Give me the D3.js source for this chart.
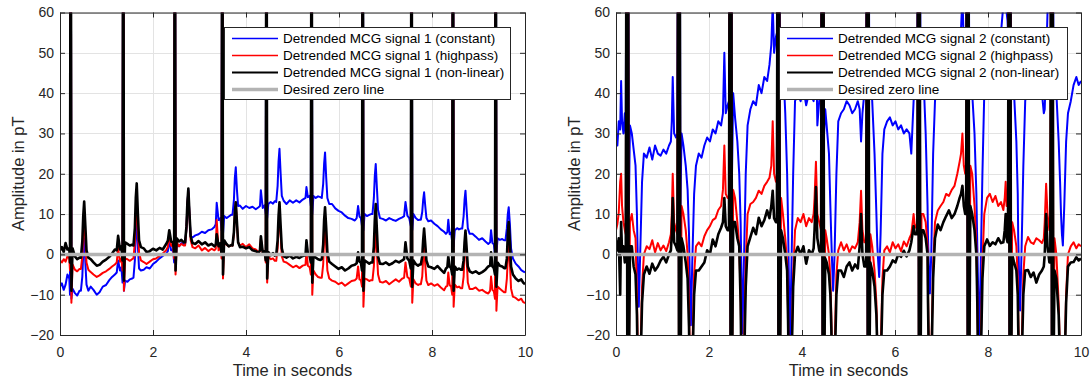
<!DOCTYPE html>
<html>
<head>
<meta charset="utf-8">
<script src="https://cdn.jsdelivr.net/npm/d3@7"></script>
<style>
  body { margin: 0; background: #fff; }
  svg { display: block; }
</style>
</head>
<body>
<div id="chart"></div>
<script>
// ---- data, one row per beat segment ----
const xTicks = [0, 2, 4, 6, 8, 10];
const yTicks = [-20, -10, 0, 10, 20, 30, 40, 50, 60];
const zeroLevel = 0;

const legend1 = ['Detrended MCG signal 1 (constant)', 'Detrended MCG signal 1 (highpass)', 'Detrended MCG signal 1 (non-linear)', 'Desired zero line'];
const legend2 = ['Detrended MCG signal 2 (constant)', 'Detrended MCG signal 2 (highpass)', 'Detrended MCG signal 2 (non-linear)', 'Desired zero line'];

// signal 1 (left)
const time1 = [
  [0.00, 0.04, 0.08, 0.12, 0.16, 0.20],
  [0.215, 0.23, 0.245, 0.27, 0.32, 0.37, 0.42],
  [0.45, 0.48, 0.50, 0.52, 0.545, 0.57, 0.61],
  [0.66, 0.72, 0.79, 0.85, 0.92, 0.99, 1.06, 1.12, 1.18],
  [1.22, 1.25, 1.29, 1.32, 1.345, 1.36, 1.375, 1.40, 1.45, 1.50, 1.55],
  [1.58, 1.61, 1.63, 1.65, 1.675, 1.70, 1.74],
  [1.80, 1.86, 1.93, 2.00, 2.07, 2.14, 2.21, 2.28],
  [2.32, 2.35, 2.39, 2.43, 2.455, 2.47, 2.485, 2.51, 2.56, 2.61, 2.66],
  [2.69, 2.72, 2.74, 2.76, 2.785, 2.81, 2.85],
  [2.91, 2.98, 3.05, 3.12, 3.19, 3.26, 3.32],
  [3.35, 3.37, 3.41, 3.45, 3.475, 3.49, 3.505, 3.53, 3.58, 3.63, 3.68],
  [3.71, 3.74, 3.76, 3.78, 3.805, 3.83, 3.87],
  [3.93, 4.00, 4.07, 4.14, 4.21, 4.27],
  [4.30, 4.32, 4.36, 4.40, 4.425, 4.44, 4.455, 4.48, 4.53, 4.58, 4.62],
  [4.65, 4.68, 4.70, 4.72, 4.745, 4.77, 4.81],
  [4.87, 4.94, 5.01, 5.08, 5.15, 5.22],
  [5.28, 5.30, 5.33, 5.37, 5.395, 5.41, 5.425, 5.45, 5.50, 5.55, 5.60],
  [5.63, 5.66, 5.68, 5.70, 5.725, 5.75, 5.79],
  [5.85, 5.92, 5.99, 6.06, 6.13, 6.20, 6.27, 6.34],
  [6.38, 6.41, 6.44, 6.47, 6.495, 6.51, 6.525, 6.55, 6.60, 6.65, 6.69],
  [6.72, 6.75, 6.77, 6.79, 6.815, 6.84, 6.88],
  [6.94, 7.01, 7.08, 7.15, 7.22, 7.29, 7.36],
  [7.40, 7.43, 7.47, 7.51, 7.545, 7.56, 7.575, 7.60, 7.65, 7.70, 7.73],
  [7.76, 7.79, 7.81, 7.83, 7.855, 7.88, 7.92],
  [7.98, 8.05, 8.12, 8.19, 8.26, 8.30],
  [8.33, 8.35, 8.38, 8.41, 8.435, 8.45, 8.465, 8.49, 8.54, 8.58, 8.62],
  [8.65, 8.68, 8.70, 8.72, 8.745, 8.77, 8.81],
  [8.87, 8.94, 9.01, 9.08, 9.15, 9.21],
  [9.25, 9.27, 9.30, 9.33, 9.355, 9.37, 9.385, 9.41, 9.46, 9.51, 9.55],
  [9.58, 9.61, 9.63, 9.65, 9.675, 9.70, 9.74],
  [9.80, 9.86, 9.92, 9.96, 10.00]
];
const constant1 = [
  [-8.0, -7.2, -8.8, -7.5, -5.0, -6.0],
  [-10, 120, -11, -8.5, -9.6, -10.2, -9.0],
  [-9.0, -5.5, 0.5, 4.0, -2.0, -7.5, -9.0],
  [-8.0, -8.8, -10.0, -9.4, -8.0, -7.6, -6.4, -5.6, -5.0],
  [-4.5, -1.5, -4.0, -3.2, -7, 120, -9, -6.5, -6.8, -6.2, -6.0],
  [-5.8, -1.5, 5.5, 8.8, 2.0, -3.5, -4.0],
  [-3.8, -3.2, -3.5, -2.4, -1.8, -1.0, -0.4, 0.2],
  [0.8, 3.5, 1.0, 1.2, -2, 120, -2, 2.5, 2.0, 2.8, 2.5],
  [2.5, 6.5, 12.5, 15.9, 9.5, 4.5, 4.2],
  [4.7, 5.0, 5.6, 5.3, 6.0, 6.2, 6.8],
  [7.5, 12.8, 8.5, 9.0, 6, 120, 5, 9.5, 9.0, 9.4, 9.8],
  [9.8, 13.5, 19.0, 21.6, 16.0, 12.0, 12.1],
  [11.3, 12.0, 11.5, 11.8, 11.2, 11.7],
  [12.0, 15.9, 11.5, 12.2, 10, 120, 9, 12.5, 13.0, 12.6, 13.2],
  [13.0, 17.0, 23.0, 26.2, 20.0, 14.5, 13.3],
  [12.5, 13.4, 12.8, 13.4, 12.9, 13.6],
  [14.0, 16.7, 14.2, 14.5, 12, 120, 10, 14.5, 14.0, 14.4, 14.2],
  [14.0, 17.5, 22.5, 25.3, 19.0, 14.0, 12.5],
  [12.5, 11.4, 10.8, 10.4, 9.6, 9.0, 8.8, 8.4],
  [9.0, 12.0, 9.4, 9.0, 7, 120, 6, 10.0, 9.5, 9.8, 10.0],
  [10.0, 14.0, 19.5, 22.4, 16.5, 11.0, 9.0],
  [8.8, 8.4, 9.0, 8.6, 8.3, 8.8, 9.2],
  [9.5, 13.0, 9.6, 9.0, 7, 120, 6, 10.0, 9.0, 8.5, 8.6],
  [8.6, 10.5, 13.5, 15.4, 12.0, 9.0, 8.2],
  [8.4, 7.6, 7.0, 6.2, 5.6, 5.1],
  [5.5, 8.6, 5.0, 5.4, 3, 120, 2, 6.0, 6.5, 6.2, 6.4],
  [6.4, 9.5, 13.5, 15.8, 11.0, 6.5, 5.1],
  [5.1, 4.4, 3.6, 4.0, 3.2, 2.6],
  [3.0, 6.0, 2.8, 2.5, 0, 120, 0, 4.0, 3.6, 3.8, 3.5],
  [3.5, 6.5, 10.0, 11.7, 7.5, 1.5, -1.0],
  [-2.3, -3.0, -3.9, -4.2, -4.5]
];
const highpass1 = [
  [-1.5, -2.0, -1.2, -1.8, -0.5, -1.0],
  [-4, 120, -12, -2.5, -3.8, -4.2, -3.6],
  [-3.6, -0.5, 5.5, 9.0, 3.5, -2.0, -3.8],
  [-4.4, -5.0, -5.6, -5.2, -4.6, -4.2, -3.6, -3.0, -2.5],
  [-2.0, 1.5, -1.8, -1.0, -4, 120, -9, -1.0, -1.2, -1.6, -1.2],
  [-1.0, 3.0, 9.5, 12.5, 6.0, 0.5, -1.5],
  [-1.9, -2.4, -1.8, -1.2, -1.0, -0.4, 0.2, 1.0],
  [1.8, 5.0, 2.2, 2.0, -1, 120, -5, 3.0, 2.0, 2.6, 2.2],
  [2.2, 6.5, 12.5, 15.5, 9.5, 3.5, 1.8],
  [1.5, 2.2, 1.0, 1.6, 0.8, 1.4, 1.0],
  [1.4, 8.5, 1.0, 1.8, -1, 120, -6, 3.0, 2.4, 2.0, 2.2],
  [2.2, 5.0, 10.0, 12.9, 7.5, 3.0, 2.2],
  [2.6, 1.8, 2.5, 1.5, 1.2, 0.6],
  [0.8, 4.0, 0.2, 0.5, -2, 120, -7, -0.5, -1.2, -1.0, -1.6],
  [-1.6, 1.5, 6.5, 9.7, 5.0, -0.5, -1.8],
  [-2.0, -2.6, -3.2, -2.8, -3.4, -2.8],
  [-2.6, 1.0, -2.8, -3.2, -5, 120, -10, -4.0, -5.0, -5.6, -5.8],
  [-5.8, -2.5, 4.0, 7.6, 2.0, -4.0, -6.0],
  [-6.5, -6.8, -7.4, -7.0, -7.8, -7.2, -6.6, -6.4],
  [-6.0, -3.0, -6.2, -6.4, -8, 120, -13, -6.0, -6.2, -6.6, -6.4],
  [-6.4, -3.0, 2.5, 6.4, 0.5, -5.0, -6.8],
  [-7.0, -6.6, -7.4, -6.8, -6.2, -6.8, -6.0],
  [-5.8, -2.0, -5.6, -6.0, -8, 120, -12, -6.2, -7.2, -7.6, -7.4],
  [-7.4, -5.5, -1.0, 2.0, -2.5, -6.5, -7.6],
  [-7.2, -7.8, -7.4, -8.2, -8.9, -8.0],
  [-7.8, -4.5, -7.6, -8.0, -10, 120, -13, -7.5, -8.2, -8.0, -8.4],
  [-8.4, -5.5, 0.0, 3.9, -1.0, -7.0, -8.6],
  [-8.6, -8.2, -9.0, -8.8, -9.4, -9.7],
  [-9.0, -5.5, -8.8, -9.2, -11, 120, -14, -8.0, -8.5, -9.0, -9.4],
  [-9.4, -6.0, -1.0, 2.4, -2.0, -8.5, -10.5],
  [-10.8, -11.4, -11.0, -11.8, -12.1]
];
const nonlinear1 = [
  [1.0, 1.8, 0.6, 2.8, 1.2, 1.5],
  [-2, 120, -9, 1.5, -0.5, -1.2, -0.8],
  [-0.8, 3.2, 9.5, 13.1, 7.0, 1.0, -0.8],
  [-1.2, -2.0, -2.8, -2.6, -1.8, -1.3, -0.6, 0.2, 1.2],
  [1.0, 4.6, 1.2, 2.0, -1.5, 120, -6.5, 3.0, 2.6, 2.2, 2.4],
  [2.2, 6.5, 14.0, 17.6, 10.0, 3.5, 1.8],
  [1.5, 0.6, 0.8, 1.4, 1.0, 1.6, 1.2, 2.5],
  [3.4, 6.0, 3.2, 3.0, 0.5, 120, -4, 4.0, 3.2, 3.6, 3.0],
  [3.0, 7.0, 13.0, 16.3, 10.0, 4.5, 2.8],
  [2.6, 3.3, 2.5, 3.0, 2.2, 2.6, 2.0],
  [2.4, 5.0, 2.0, 2.8, 0, 120, -5, 3.5, 2.6, 2.0, 2.3],
  [2.2, 5.5, 10.5, 12.9, 8.0, 3.0, 1.8],
  [1.9, 1.5, 1.8, 1.0, 0.8, 0.4],
  [1.0, 4.5, 0.5, 0.8, -1.5, 120, -6, 0.6, -0.2, 0.3, -0.3],
  [-0.2, 3.5, 9.5, 12.9, 7.0, 1.5, -0.5],
  [-0.8, -0.3, -1.0, -0.6, -0.9, -0.4],
  [-0.2, 3.5, 0.2, -0.5, -2, 120, -7, -0.5, -0.8, -1.2, -1.4],
  [-1.2, 2.5, 8.5, 11.7, 6.5, 0.5, -1.8],
  [-2.4, -3.0, -3.6, -3.2, -4.0, -3.5, -2.8, -2.6],
  [-2.2, 0.5, -1.8, -2.0, -4, 120, -9, -1.5, -1.9, -2.3, -2.0],
  [-2.0, 2.0, 8.5, 12.5, 6.0, -0.5, -2.3],
  [-2.4, -2.0, -2.6, -2.2, -1.6, -2.0, -1.5],
  [-1.2, 3.0, -1.0, -1.6, -3.5, 120, -8, -1.5, -2.4, -2.8, -2.5],
  [-2.5, -0.5, 3.5, 6.4, 2.5, -1.5, -3.0],
  [-3.2, -3.6, -2.9, -3.8, -4.6, -3.5],
  [-3.2, -0.5, -3.0, -3.4, -5, 120, -9, -3.0, -3.8, -3.5, -3.8],
  [-3.8, -1.5, 3.0, 5.9, 1.5, -3.0, -4.2],
  [-4.6, -4.2, -4.8, -4.4, -3.8, -3.0],
  [-2.8, 0.5, -3.0, -3.4, -5, 120, -8, -2.0, -2.8, -3.0, -3.4],
  [-3.4, -1.0, 5.0, 8.0, 3.0, -3.0, -5.0],
  [-6.0, -6.6, -6.2, -7.0, -7.4]
];

// signal 2 (right), one row per beat
const time2 = [
  [0.00, 0.03, 0.06, 0.09, 0.11, 0.13, 0.16, 0.19, 0.21, 0.23, 0.245, 0.26, 0.275, 0.30, 0.34, 0.38, 0.42, 0.45, 0.47, 0.49, 0.52, 0.56, 0.60, 0.66, 0.72, 0.78, 0.84, 0.90, 0.96, 1.02, 1.08, 1.14, 1.18],
  [1.20, 1.22, 1.25, 1.29, 1.32, 1.34, 1.355, 1.37, 1.385, 1.41, 1.45, 1.50, 1.54, 1.57, 1.59, 1.61, 1.64, 1.68, 1.72, 1.78, 1.84, 1.90, 1.96, 2.02, 2.08, 2.14, 2.20, 2.26],
  [2.30, 2.33, 2.36, 2.40, 2.43, 2.45, 2.465, 2.48, 2.495, 2.52, 2.56, 2.61, 2.65, 2.68, 2.70, 2.72, 2.75, 2.79, 2.83, 2.89, 2.95, 3.01, 3.07, 3.13, 3.19, 3.25, 3.30],
  [3.34, 3.37, 3.40, 3.44, 3.46, 3.48, 3.495, 3.51, 3.525, 3.55, 3.59, 3.64, 3.68, 3.70, 3.72, 3.74, 3.77, 3.81, 3.85, 3.91, 3.97, 4.03, 4.09, 4.15, 4.21, 4.25],
  [4.27, 4.30, 4.33, 4.37, 4.41, 4.43, 4.445, 4.46, 4.475, 4.50, 4.53, 4.58, 4.61, 4.63, 4.65, 4.67, 4.70, 4.74, 4.78, 4.84, 4.90, 4.96, 5.02, 5.08, 5.14, 5.20],
  [5.24, 5.27, 5.30, 5.34, 5.38, 5.40, 5.415, 5.43, 5.445, 5.47, 5.51, 5.56, 5.60, 5.62, 5.64, 5.66, 5.69, 5.73, 5.77, 5.83, 5.89, 5.95, 6.01, 6.07, 6.13, 6.19, 6.25, 6.31],
  [6.35, 6.40, 6.43, 6.46, 6.48, 6.50, 6.515, 6.53, 6.545, 6.57, 6.61, 6.66, 6.70, 6.71, 6.73, 6.75, 6.78, 6.82, 6.86, 6.92, 6.98, 7.04, 7.10, 7.16, 7.22, 7.28, 7.34, 7.39],
  [7.42, 7.45, 7.48, 7.51, 7.53, 7.55, 7.565, 7.58, 7.595, 7.62, 7.66, 7.71, 7.75, 7.77, 7.79, 7.81, 7.84, 7.88, 7.92, 7.98, 8.04, 8.10, 8.16, 8.22, 8.28, 8.33],
  [8.36, 8.38, 8.40, 8.42, 8.43, 8.45, 8.465, 8.48, 8.495, 8.52, 8.56, 8.61, 8.64, 8.65, 8.67, 8.69, 8.72, 8.76, 8.80, 8.86, 8.92, 8.98, 9.04, 9.10, 9.16, 9.20],
  [9.22, 9.25, 9.28, 9.32, 9.34, 9.36, 9.375, 9.39, 9.405, 9.43, 9.47, 9.52, 9.55, 9.57, 9.59, 9.61, 9.64, 9.68, 9.72, 9.78, 9.84, 9.90, 9.95, 10.00]
];
const constant2 = [
  [29, 27, 33, 31, 43, 33, 30, 35, 30, 120, -20, 110, 10, 32, 30, 26, 22, 10, -2, -13, 0, 18, 25, 24, 26.5, 23.5, 27, 25, 24.5, 26, 25, 27, 28],
  [33, 44, 30, 29, 30, 120, -20, 110, 12, 30, 27, 22, 16, 5, -8, -17.6, -2, 15, 22, 25, 24, 27, 29, 28, 31, 30, 33, 32],
  [35, 50, 35, 37, 38, 120, -20, 110, 20, 40, 34, 28, 20, 8, -6, -19.6, -3, 20, 32, 36, 38, 37, 42, 40, 44, 43, 47],
  [52, 62, 50, 54, 55, 120, -20, 110, 45, 56, 48, 35, 20, 8, -8, -22, -5, 20, 38, 40, 38, 41, 37, 40, 39, 38],
  [40, 55, 32, 38, 40, 120, -20, 110, 30, 36, 32, 25, 12, 4, -3, -9, 0, 20, 33, 35, 36, 38, 37, 35, 36, 38],
  [36, 28, 35, 40, 42, 120, -20, 110, 50, 45, 38, 25, 10, 2, -2, -5.6, 5, 25, 31, 33, 34, 32, 33, 31, 32, 30, 31, 30],
  [25, 38, 42, 45, 46, 120, -20, 110, 55, 50, 45, 30, 12, 4, -4, -9.7, 0, 25, 38, 45, 48, 50, 52, 51, 53, 55, 54, 53],
  [56, 64, 52, 55, 55, 120, -20, 110, 50, 45, 40, 30, 15, 2, -10, -22, -5, 20, 40, 48, 50, 49, 52, 53, 55, 62],
  [65, 66, 60, 58, 55, 120, -20, 110, 50, 46, 40, 28, 15, 4, -6, -13.9, 0, 22, 38, 44, 47, 45, 46, 44, 40, 35],
  [36, 48, 60, 62, 60, 120, -20, 110, 55, 50, 40, 28, 18, 10, 5, 2.2, 12, 28, 35, 38, 42, 44, 42, 43]
];
const highpass2 = [
  [6, 7.5, 10.5, 18, 20, 12, 8, 6, 5, 120, -40, 100, -30, 8, 10, 6, 4, -10, -25, -35, -28, -8, 0, 2, 1.3, 3.5, 0.5, 2.8, 1.0, 2.2, 0.8, 3.0, 5],
  [10, 20, 8, 6, 5, 120, -40, 100, -30, 12, 10, 6, 0, -12, -28, -35, -25, -5, 2, 3, 2, 4.5, 6, 7, 8.5, 9, 11, 12],
  [16, 27, 15, 14, 14, 120, -40, 100, -30, 16, 14, 8, 2, -10, -26, -36, -25, -2, 10, 12.5, 13, 14, 15.8, 15, 17, 18, 19],
  [22, 33, 20, 18, 18, 120, -40, 100, -30, 14, 10, 4, -2, -14, -30, -40, -28, -5, 6, 9, 8, 10, 7, 9, 8, 10],
  [14, 23, 10, 8, 6, 120, -40, 100, -30, 6, 4, 0, -6, -15, -28, -36, -25, -5, 1, 3, 1, 2.5, 0.5, 2, 1.5, 3],
  [8, 15.8, 6, 3, 3, 120, -40, 100, -30, 5, 2, -4, -12, -22, -30, -35, -25, -6, 1, 2, 0.5, 3, 1.5, 2.5, 0.8, 3.2, 2, 4],
  [5, 10, 6.6, 7, 8, 120, -40, 100, -30, 10, 10, 8, 2, -10, -25, -35, -25, -3, 8, 10.9, 12, 13, 15, 14.5, 16, 17, 20, 23],
  [25, 30, 22, 20, 20, 120, -40, 100, -30, 22, 20, 12, 2, -10, -28, -38, -25, -2, 10, 14, 15, 13, 14.5, 12, 13, 11],
  [14, 18, 12, 12, 12, 120, -40, 100, -30, 8, 6, 2, -6, -15, -28, -36, -25, -5, 2, 4.3, 3, 2.6, 4, 3.5, 2.8, 4],
  [8, 17.5, 10, 6, 6, 120, -40, 100, -30, 4, 0, -12, -25, -32, -36, -35, -30, -10, 0, 2, 3, 1.5, 2.5, 2]
];
const nonlinear2 = [
  [3.5, 1, 4, -10, 8, 0.5, 2, -2, 0, 120, -50, 100, -35, 2, 2, -3, -5, -15, -30, -40, -32, -12, -5, -3, -4.8, -2.3, -4, -3, -1.5, -0.6, -2, 0, 1],
  [5, 14, 3, 2, 1, 120, -50, 100, -35, 4, 2, -2, -6, -18, -32, -40, -30, -10, -4, -4, -3, -2, 1, 0, 3.7, 2, 5, 6.6],
  [8, 14, 7, 6, 6, 120, -50, 100, -35, 8, 8, 4, 2, -12, -30, -40, -30, -8, 2, 4.3, 6.6, 5, 9.1, 7, 8.5, 10.9, 9],
  [12, 15.8, 9, 8, 8, 120, -50, 100, -35, 6, 4, 0, -4, -16, -32, -42, -30, -8, 0, 1.9, 0, 2, -2.3, 1, 0, 1.5],
  [6, 16.7, 4, 1, 0, 120, -50, 100, -35, -1, -2, -5, -10, -18, -30, -40, -30, -10, -4, -4, -5.6, -3, -2, -4, -2.5, -3.5],
  [2, 10, 0, -3, -3, 120, -50, 100, -35, -2, -4, -8, -15, -24, -32, -40, -30, -10, -4, -4, -3, -1.5, -2, 0, -0.6, 0.9, -0.5, 1],
  [3, 7, 5, 5, 5, 120, -50, 100, -35, 6, 6, 4, 0, -12, -28, -38, -30, -6, 4, 7.4, 6, 8, 9.5, 10.9, 9, 10, 12, 14],
  [15, 17, 12, 10, 10, 120, -50, 100, -35, 12, 10, 6, 0, -12, -30, -40, -30, -6, 2, 3.7, 2.1, 3, 2.5, 4, 2.8, 3],
  [6, 10, 4, 3, 3, 120, -50, 100, -35, 0, -2, -4, -10, -18, -30, -40, -30, -10, -4, -3.9, -5.6, -4.5, -7, -5, -4, -3],
  [0, 10, 2, -2, -2, 120, -50, 100, -35, -4, -6, -15, -28, -35, -40, -38, -32, -12, -3, -2, -1.9, -0.7, -1.5, -1]
];

// ---- drawing ----
const width = 1092, height = 381;
const font = '"Liberation Sans", Arial, Helvetica, sans-serif';
const axisColor = '#262626';
const colors = ['#0000ff', '#ff0000', '#000000', '#b3b3b3'];
const legendWidths = [1.5, 1.5, 2, 3.5];
const plotWidths = [2, 2, 2.6, 3.5];   // signal noise makes the traces look thicker

const svg = d3.select('#chart').append('svg')
  .attr('width', width)
  .attr('height', height)
  .attr('font-family', font);

svg.append('rect').attr('width', width).attr('height', height).attr('fill', '#fff');

function drawPanel(id, left, time, seriesList, labels, legendX, legendW) {
  const x = d3.scaleLinear().domain([0, 10]).range([left, left + 465]);
  const y = d3.scaleLinear().domain([-20, 60]).range([335, 12.5]);

  const g = svg.append('g');

  g.append('clipPath').attr('id', 'clip' + id)
    .append('rect')
    .attr('x', x(0)).attr('y', y(60))
    .attr('width', x(10) - x(0)).attr('height', y(-20) - y(60));

  // grid
  g.append('g')
    .attr('stroke', '#e3e3e3')
    .attr('stroke-width', 1)
    .call(gg => gg.selectAll('.gx').data(xTicks).join('line')
      .attr('x1', d => x(d) + 0.5).attr('x2', d => x(d) + 0.5)
      .attr('y1', y(60)).attr('y2', y(-20)))
    .call(gg => gg.selectAll('.gy').data(yTicks).join('line')
      .attr('y1', d => Math.round(y(d)) + 0.5).attr('y2', d => Math.round(y(d)) + 0.5)
      .attr('x1', x(0)).attr('x2', x(10)));

  const t = time.flat();
  const line = d3.line().x(d => x(d[0])).y(d => y(d[1]));

  const plot = g.append('g').attr('clip-path', `url(#clip${id})`);
  seriesList.forEach((vals, i) => {
    const v = vals.flat();
    plot.append('path')
      .datum(t.map((tt, k) => [tt, v[k]]))
      .attr('fill', 'none')
      .attr('stroke', colors[i])
      .attr('stroke-width', plotWidths[i])
      .attr('stroke-linejoin', 'round')
      .attr('d', line);
  });
  plot.append('path')
    .datum([[0, zeroLevel], [10, zeroLevel]])
    .attr('fill', 'none')
    .attr('stroke', colors[3])
    .attr('stroke-width', plotWidths[3])
    .attr('d', line);

  // axes
  const style = a => a.attr('font-family', font).attr('font-size', 14).attr('color', axisColor);
  g.append('g')
    .attr('transform', `translate(0,${y(-20)})`)
    .call(d3.axisBottom(x).tickValues(xTicks).tickSize(-5).tickSizeOuter(0).tickPadding(12))
    .call(style);
  g.append('g')
    .attr('transform', `translate(0,${y(60)})`)
    .call(d3.axisTop(x).tickValues(xTicks).tickSize(-5).tickSizeOuter(0).tickFormat(''))
    .call(style);
  g.append('g')
    .attr('transform', `translate(${x(0)},0)`)
    .call(d3.axisLeft(y).tickValues(yTicks).tickSize(-5).tickSizeOuter(0).tickPadding(6))
    .call(style);
  g.append('g')
    .attr('transform', `translate(${x(10)},0)`)
    .call(d3.axisRight(y).tickValues(yTicks).tickSize(-5).tickSizeOuter(0).tickFormat(''))
    .call(style);

  // axis labels
  g.append('text')
    .attr('x', (x(0) + x(10)) / 2).attr('y', 376)
    .attr('text-anchor', 'middle')
    .attr('font-size', 16.5).attr('fill', axisColor)
    .text('Time in seconds');
  g.append('text')
    .attr('transform', `translate(${x(0) - 36},${(y(60) + y(-20)) / 2}) rotate(-90)`)
    .attr('text-anchor', 'middle')
    .attr('font-size', 16.5).attr('fill', axisColor)
    .text('Amplitude in pT');

  // legend
  const lg = g.append('g').attr('transform', `translate(${legendX},27)`);
  lg.append('rect')
    .attr('x', 0.5).attr('y', 0.5)
    .attr('width', legendW).attr('height', 72)
    .attr('fill', '#fff').attr('stroke', axisColor).attr('stroke-width', 1);
  const items = lg.selectAll('g.item').data(labels).join('g')
    .attr('transform', (d, i) => `translate(0,${11.5 + i * 17})`);
  items.append('line')
    .attr('x1', 8).attr('x2', 54)
    .attr('stroke', (d, i) => colors[i])
    .attr('stroke-width', (d, i) => legendWidths[i]);
  items.append('text')
    .attr('x', 59).attr('dy', '0.35em')
    .attr('font-size', 13.5).attr('fill', '#000')
    .text(d => d);
}

drawPanel(1, 60, time1, [constant1, highpass1, nonlinear1], legend1, 224, 286);
drawPanel(2, 616, time2, [constant2, highpass2, nonlinear2], legend2, 779, 288);
</script>
</body>
</html>
